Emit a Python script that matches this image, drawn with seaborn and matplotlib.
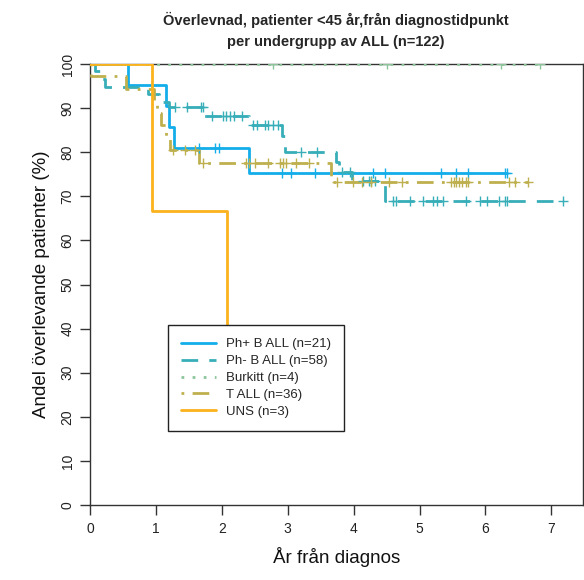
import numpy as np
import pandas as pd
import matplotlib
matplotlib.use("Agg")
import matplotlib.pyplot as plt
import seaborn as sns
from matplotlib.lines import Line2D

sns.set_theme(style="white")
plt.rcParams['font.family'] = ['Liberation Sans', 'DejaVu Sans']

# ---------------- data ----------------
groups = ["Ph+ B ALL (n=21)", "Ph- B ALL (n=58)", "Burkitt (n=4)", "T ALL (n=36)", "UNS (n=3)"]

# Ph+ B ALL
php_t = [0, 0.58, 1.15, 1.20, 1.27, 2.42]
php_s = [100, 95.2, 90.5, 85.7, 81.0, 75.2]
php_c = [1.65, 1.89, 1.95, 2.91, 3.05, 3.41, 4.30, 4.48, 5.33, 5.55, 5.74, 6.30, 6.33]

# Ph- B ALL
phm_t = [0, 0.08, 0.15, 0.22, 0.88, 1.05, 1.20, 1.73, 2.42, 2.92, 2.96, 3.74, 3.78, 3.98, 4.47]
phm_s = [100, 98.3, 96.6, 94.8, 93.1, 91.4, 90.2, 88.2, 86.1, 83.6, 80.0, 77.7, 75.5, 73.4, 68.9]
phm_c = [1.29, 1.47, 1.68, 1.71, 1.85, 2.02, 2.07, 2.12, 2.18, 2.30, 2.47, 2.53, 2.65, 2.70,
         2.77, 2.85, 3.20, 3.45, 3.82, 3.94, 4.14, 4.23, 4.27, 4.32, 4.60, 4.65, 4.85, 5.05,
         5.20, 5.26, 5.35, 5.71, 5.91, 6.03, 6.21, 6.29, 6.32, 7.17]

# Burkitt
bur_t = [0]
bur_s = [100]
bur_c = [2.77, 4.50, 6.24, 6.83]

# T ALL
tal_t = [0, 0.02, 0.55, 0.97, 1.02, 1.08, 1.15, 1.22, 1.65, 3.66]
tal_s = [100, 97.2, 94.4, 91.7, 88.9, 86.1, 83.3, 80.6, 77.5, 73.2]
tal_c = [1.26, 1.44, 1.59, 1.71, 2.36, 2.42, 2.50, 2.70, 2.88, 2.93, 2.98, 3.13, 3.33, 3.75,
         3.99, 4.13, 4.26, 4.53, 4.73, 5.48, 5.53, 5.56, 5.60, 5.65, 5.71, 5.74, 6.35, 6.45, 6.64]

# UNS
uns_t = [0, 0.94, 2.08]
uns_s = [100, 66.7, 33.3]
uns_c = []

colors = ["#13AEEA", "#38AEB8", "#8CC59A", "#BEB04E", "#FBB21C"]
styles = ["-", (0, (6, 4)), (0, (1, 3)), (0, (1, 3, 6, 3)), "-"]
widths = [2.0, 2.0, 2.0, 2.0, 2.0]

curves = [(php_t, php_s, php_c), (phm_t, phm_s, phm_c), (bur_t, bur_s, bur_c),
          (tal_t, tal_s, tal_c), (uns_t, uns_s, uns_c)]

# ---------------- figure ----------------
fig = plt.figure(figsize=(5.84, 5.80), dpi=100)
ax = fig.add_axes([90/584, 75/580, 493/584, 441/580])

for (t, s, c), g, col, ls, lw in zip(curves, groups, colors, styles, widths):
    t = list(t); s = list(s)
    end = max([t[-1]] + list(c))
    tt = t + [end]
    ss = s + [s[-1]]
    df = pd.DataFrame({"t": tt, "s": ss})
    sns.lineplot(data=df, x="t", y="s", ax=ax, color=col, linestyle=ls, linewidth=lw,
                 drawstyle="steps-post", estimator=None, sort=False, legend=False, zorder=3)
    if len(c):
        idx = np.searchsorted(np.array(t), np.array(c), side="right") - 1
        cy = np.array(s)[idx]
        cdf = pd.DataFrame({"t": c, "s": cy})
        sns.scatterplot(data=cdf, x="t", y="s", ax=ax, marker="+", s=60, color=col,
                        linewidth=1.0, legend=False, zorder=4)

ax.set_xlim(0, 7.48)
ax.set_ylim(0, 100)
ax.set_xticks(range(0, 8))
ax.set_yticks(range(0, 101, 10))
ax.set_yticklabels([str(v) for v in range(0, 101, 10)], rotation=90, va="center")
ax.tick_params(axis="both", direction="out", length=7, width=1, colors="#333333",
               labelsize=10, labelcolor="#222222", pad=5, bottom=True, left=True)
ax.tick_params(axis="y", pad=4)
for sp in ax.spines.values():
    sp.set_color("#333333")
    sp.set_linewidth(1.0)
ax.set_xlabel("År från diagnos", fontsize=13.5, labelpad=8, color="#111111")
ax.set_ylabel("Andel överlevande patienter (%)", fontsize=13.5, labelpad=8, color="#111111")
ax.grid(False)

fig.text(336/584, 1 - 20/580, "Överlevnad, patienter <45 år,från diagnostidpunkt",
         ha="center", va="center", fontsize=10.5, fontweight="bold")
fig.text(336/584, 1 - 42/580, "per undergrupp av ALL (n=122)",
         ha="center", va="center", fontsize=10.5, fontweight="bold")

handles = [Line2D([0], [0], color=col, linestyle=ls, linewidth=lw)
           for col, ls, lw in zip(colors, styles, widths)]
leg = ax.legend(handles, groups, loc="upper left", bbox_to_anchor=(78/493, 180/441),
                fontsize=9.5, frameon=True, fancybox=False, framealpha=1,
                edgecolor="#222222", handlelength=2.6, borderpad=1.0, labelspacing=0.35,
                borderaxespad=0)
leg.get_frame().set_linewidth(1.0)

fig.savefig("out.png", dpi=100)
